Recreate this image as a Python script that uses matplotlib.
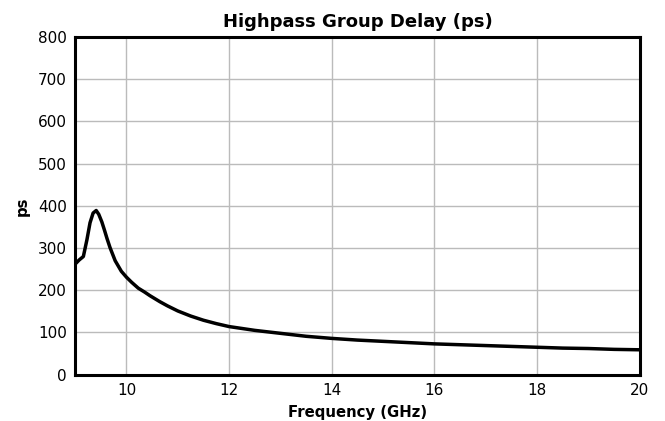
import matplotlib.pyplot as plt

plt.rcParams['font.family'] = 'DejaVu Sans'

# frequency (GHz) and group delay (ps)
freq = [9.0, 9.08, 9.16, 9.23, 9.29, 9.35, 9.41, 9.46, 9.52, 9.57, 9.62, 9.68,
        9.78, 9.9, 10.0, 10.1, 10.23, 10.35, 10.46, 10.65, 10.8, 11.0, 11.25,
        11.5, 11.75, 12.0, 12.5, 13.0, 13.5, 14.0, 14.5, 15.0, 15.5, 16.0,
        16.5, 17.0, 17.5, 18.0, 18.5, 19.0, 19.5, 20.0]
delay = [262, 272, 280, 320, 360, 383, 389, 380, 362, 343, 323, 301,
         270, 245, 231, 219, 205, 196, 187, 173, 163, 151, 139,
         129, 121, 114, 105, 98, 91, 86, 82, 79, 76, 73,
         71, 69, 67, 65, 63, 62, 60, 59]

xticks = [10, 12, 14, 16, 18, 20]
yticks = [0, 100, 200, 300, 400, 500, 600, 700, 800]

fig, ax = plt.subplots(figsize=(6.65, 4.21), dpi=100)
fig.subplots_adjust(left=0.113, right=0.962, top=0.912, bottom=0.11)

ax.plot(freq, delay, color='black', lw=2.5)
ax.set_xlim(9, 20)
ax.set_ylim(0, 800)
ax.set_xticks(xticks)
ax.set_yticks(yticks)
ax.grid(True, color='#bbbbbb', lw=1)
ax.set_axisbelow(True)
ax.tick_params(length=0, labelsize=11, pad=6)
for s in ax.spines.values():
    s.set_linewidth(2.2)

ax.set_title('Highpass Group Delay (ps)', fontsize=13, fontweight='bold', pad=7)
ax.set_xlabel('Frequency (GHz)', fontsize=10.7, fontweight='bold', labelpad=5)
ax.set_ylabel('ps', fontsize=10.7, fontweight='bold', labelpad=6)

plt.savefig('out.png', dpi=100)
